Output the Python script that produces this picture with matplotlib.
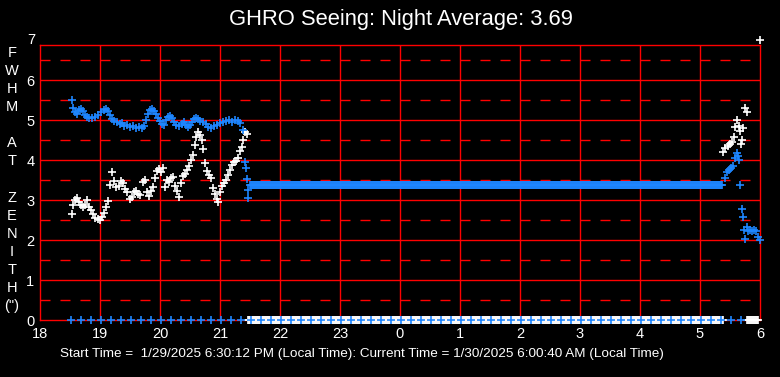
import numpy as np
import matplotlib
matplotlib.use('Agg')
import matplotlib.pyplot as plt

plt.rcParams['font.family'] = ['Liberation Sans', 'DejaVu Sans']
plt.rcParams['lines.scale_dashes'] = False

# Datos (hora local, 18 = 6 PM, 24+ = dia siguiente)
blue_t = [18.53, 18.55, 18.58, 18.62, 18.65, 18.68, 18.72, 18.75, 18.78, 18.82,
          18.87, 18.92, 18.97, 19.02, 19.07, 19.10, 19.13, 19.17, 19.20, 19.23,
          19.28, 19.33, 19.37, 19.40, 19.45, 19.50, 19.55, 19.60, 19.65, 19.70,
          19.73, 19.77, 19.80, 19.83, 19.87, 19.90, 19.93, 19.97, 20.00, 20.03,
          20.07, 20.10, 20.13, 20.17, 20.20, 20.23, 20.27, 20.32, 20.37, 20.40,
          20.43, 20.47, 20.50, 20.53, 20.57, 20.60, 20.63, 20.67, 20.72, 20.77,
          20.80, 20.85, 20.90, 20.95, 21.00, 21.05, 21.10, 21.15, 21.20, 21.25,
          21.30, 21.33, 21.38, 21.42, 21.43, 21.45, 21.47, 21.47,
          29.42, 29.45, 29.48, 29.52, 29.55, 29.58, 29.62, 29.63, 29.65, 29.67,
          29.70, 29.71, 29.73, 29.75, 29.78, 29.80, 29.83, 29.87, 29.90, 29.93,
          29.97, 30.00]
blue_v = [5.50, 5.30, 5.20, 5.15, 5.25, 5.28, 5.22, 5.12, 5.07, 5.05,
          5.05, 5.07, 5.12, 5.20, 5.25, 5.28, 5.22, 5.12, 5.02, 4.97,
          4.95, 4.90, 4.92, 4.85, 4.88, 4.82, 4.85, 4.80, 4.82, 4.80,
          4.85, 5.00, 5.15, 5.25, 5.28, 5.22, 5.15, 5.05, 4.97, 4.90,
          4.88, 5.00, 5.07, 5.10, 5.05, 4.95, 4.88, 4.85, 4.90, 4.95,
          4.88, 4.82, 4.88, 4.95, 5.02, 5.05, 5.02, 4.97, 4.95, 4.90,
          4.82, 4.80, 4.85, 4.88, 4.92, 4.95, 4.97, 5.00, 4.95, 5.00,
          4.97, 4.92, 4.75, 3.95, 3.80, 3.52, 3.25, 3.05,
          3.55, 3.70, 3.75, 3.80, 3.85, 4.05, 4.18, 4.10, 4.00, 3.37,
          2.78, 2.57, 2.25, 2.03, 2.33, 2.22, 2.25, 2.22, 2.25, 2.22,
          2.07, 2.00]

# tramo plano azul (sin cambios durante la noche)
flat_start, flat_end, flat_value = 21.50, 29.38, 3.37

white_t = [18.53, 18.55, 18.58, 18.62, 18.65, 18.68, 18.72, 18.75, 18.78, 18.82,
           18.85, 18.88, 18.92, 18.97, 19.00, 19.03, 19.07, 19.10, 19.13, 19.17,
           19.20, 19.23, 19.27, 19.32, 19.35, 19.38, 19.42, 19.45, 19.50, 19.53,
           19.57, 19.60, 19.63, 19.67, 19.72, 19.75, 19.78, 19.82, 19.85, 19.88,
           19.92, 19.95, 19.98, 20.02, 20.05, 20.08, 20.12, 20.15, 20.18, 20.22,
           20.25, 20.28, 20.32, 20.35, 20.38, 20.42, 20.45, 20.48, 20.52, 20.55,
           20.58, 20.60, 20.63, 20.67, 20.70, 20.72, 20.75, 20.78, 20.82, 20.85,
           20.88, 20.92, 20.95, 20.97, 21.00, 21.03, 21.07, 21.10, 21.13, 21.17,
           21.20, 21.23, 21.27, 21.30, 21.33, 21.37, 21.38, 21.42, 21.45,
           29.38, 29.42, 29.47, 29.50, 29.53, 29.57, 29.58, 29.62, 29.65, 29.67,
           29.68, 29.70, 29.72, 29.75, 29.78, 30.00]
white_v = [2.65, 2.87, 3.00, 3.05, 2.95, 2.87, 2.82, 2.87, 3.00, 2.82,
           2.75, 2.65, 2.55, 2.52, 2.50, 2.57, 2.67, 2.82, 2.97, 3.37,
           3.70, 3.47, 3.33, 3.35, 3.47, 3.42, 3.27, 3.20, 3.02, 3.07,
           3.20, 3.22, 3.15, 3.12, 3.45, 3.50, 3.20, 3.10, 3.22, 3.33,
           3.55, 3.72, 3.77, 3.70, 3.80, 3.33, 3.50, 3.45, 3.55, 3.57,
           3.35, 3.22, 3.07, 3.42, 3.60, 3.65, 3.75, 3.85, 4.00, 4.12,
           4.37, 4.57, 4.70, 4.62, 4.50, 4.27, 3.92, 3.72, 3.62, 3.55,
           3.30, 3.15, 3.02, 2.95, 3.20, 3.35, 3.42, 3.50, 3.62, 3.75,
           3.87, 3.95, 3.97, 4.05, 4.22, 4.32, 4.50, 4.70, 4.65,
           4.20, 4.30, 4.35, 4.40, 4.45, 4.57, 4.83, 5.00, 4.85, 4.73,
           4.40, 4.50, 4.80, 5.30, 5.20, 7.00]

# marcas en cero (sin medicion)
zero_blue_t = np.arange(18.52, 29.75, 1 / 6)
zero_white_t = np.concatenate([np.arange(21.47, 29.39, 1 / 60),
                               np.arange(29.78, 29.98, 1 / 60)])

x_ticks = list(range(18, 31))
x_labels = [str(h % 24) for h in x_ticks]
y_label_lines = ['F', 'W', 'H', 'M', '', 'A', 'T', '', 'Z', 'E', 'N', 'I', 'T', 'H', '(")']

title = 'GHRO Seeing: Night Average: 3.69'
footer = ('Start Time =  1/29/2025 6:30:12 PM (Local Time): '
          'Current Time = 1/30/2025 6:00:40 AM (Local Time)')

blue = '#1e86ff'
red = '#ff0000'

fig = plt.figure(figsize=(7.8, 3.77), dpi=100, facecolor='black')
ax = fig.add_axes([40 / 780, 57 / 377, 720 / 780, 275 / 377], facecolor='black')

# Rejilla roja
for h in x_ticks[1:-1]:
    ax.axvline(h, color=red, lw=1.0, zorder=1)
for v in range(1, 7):
    ax.axhline(v, color=red, lw=1.0, zorder=1)
for v in np.arange(0.5, 7, 1.0):
    ax.axhline(v, color=red, lw=1.0, dashes=(7.2, 7.2), zorder=1)

mk = dict(marker='+', linestyle='none', ms=5.5, mew=1.2, clip_on=False, zorder=3)
ax.plot(white_t, white_v, color='white', **mk)
ax.plot(blue_t, blue_v, color=blue, **mk)
flat_t = np.arange(flat_start, flat_end, 1 / 60)
ax.plot(flat_t, np.full(len(flat_t), flat_value), color=blue, **mk)
ax.plot(zero_white_t, np.zeros(len(zero_white_t)), color='white', **mk)
ax.plot(zero_blue_t, np.zeros(len(zero_blue_t)), color=blue, **mk)

ax.set_xlim(18, 30)
ax.set_ylim(0, 6.875)
ax.set_xticks(x_ticks)
ax.set_xticklabels(x_labels)
ax.set_yticks(range(0, 7))
ax.tick_params(length=0, colors='white', labelsize=10.5)
ax.tick_params(axis='x', pad=5)
ax.tick_params(axis='y', pad=4)
ax.text(-0.006, 7, '7', transform=ax.get_yaxis_transform(), ha='right', va='center',
        color='white', fontsize=10.5, clip_on=False)
for s in ax.spines.values():
    s.set_color(red)
    s.set_linewidth(1.0)

# etiqueta vertical letra por letra
for i, ch in enumerate(y_label_lines):
    fig.text(12 / 780, 1 - (53 + i * 18.07) / 377, ch, ha='center', va='center',
             color='white', fontsize=10.5)

fig.text(401 / 780, 1 - 20 / 377, title, ha='center', va='center', color='white', fontsize=15.8)
fig.text(362 / 780, 1 - 354 / 377, footer, ha='center', va='center', color='white', fontsize=9.7)

fig.savefig('out.png', dpi=100, facecolor='black')
